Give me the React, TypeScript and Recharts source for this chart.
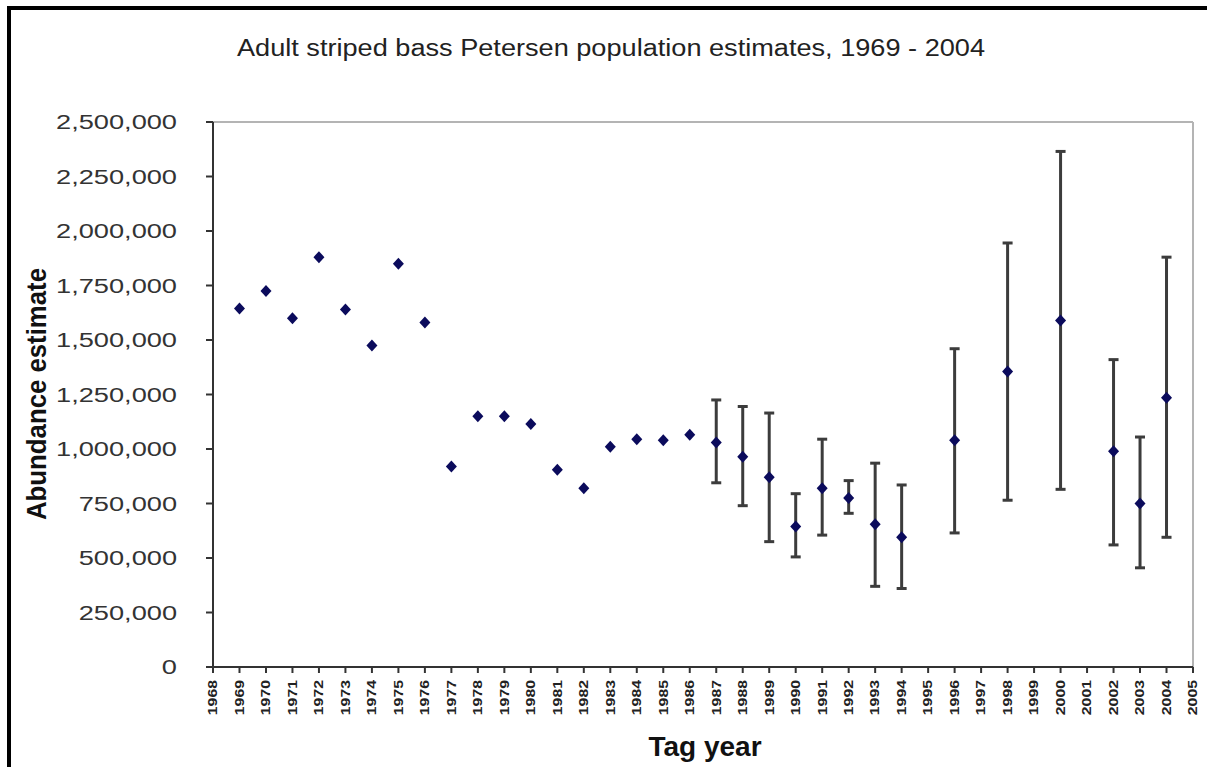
import React from "react";
import {
  ScatterChart,
  Scatter,
  XAxis,
  YAxis,
  ErrorBar,
  ReferenceLine,
} from "recharts";

// tag years and Petersen estimates
const years = [
  1969, 1970, 1971, 1972, 1973, 1974, 1975, 1976, 1977, 1978, 1979, 1980, 1981,
  1982, 1983, 1984, 1985, 1986, 1987, 1988, 1989, 1990, 1991, 1992, 1993, 1994,
  1996, 1998, 2000, 2002, 2003, 2004,
];
const estimates = [
  1645000, 1725000, 1600000, 1880000, 1640000, 1475000, 1850000, 1580000, 920000,
  1150000, 1150000, 1115000, 905000, 820000, 1010000, 1045000, 1040000, 1065000,
  1030000, 965000, 870000, 645000, 820000, 775000, 655000, 595000, 1040000,
  1355000, 1590000, 990000, 750000, 1235000,
];
// confidence limits (null = no interval shown)
const lowerCI = [
  null, null, null, null, null, null, null, null, null, null, null, null, null,
  null, null, null, null, null, 845000, 740000, 575000, 505000, 605000, 705000,
  370000, 360000, 615000, 765000, 815000, 560000, 455000, 595000,
];
const upperCI = [
  null, null, null, null, null, null, null, null, null, null, null, null, null,
  null, null, null, null, null, 1225000, 1195000, 1165000, 795000, 1045000,
  855000, 935000, 835000, 1460000, 1945000, 2365000, 1410000, 1055000, 1880000,
];

const xTicks = [
  1968, 1969, 1970, 1971, 1972, 1973, 1974, 1975, 1976, 1977, 1978, 1979, 1980,
  1981, 1982, 1983, 1984, 1985, 1986, 1987, 1988, 1989, 1990, 1991, 1992, 1993,
  1994, 1995, 1996, 1997, 1998, 1999, 2000, 2001, 2002, 2003, 2004, 2005,
];
const yTicks = [
  0, 250000, 500000, 750000, 1000000, 1250000, 1500000, 1750000, 2000000,
  2250000, 2500000,
];

const FONT = "'Liberation Sans', Arial, sans-serif";

const points = years.map((year, i) => {
  const lo = lowerCI[i];
  const hi = upperCI[i];
  return {
    year,
    estimate: estimates[i],
    err: lo != null && hi != null ? [estimates[i] - lo, hi - estimates[i]] : undefined,
  };
});

const Diamond = (props: any) => {
  const { cx, cy } = props;
  if (cx == null || cy == null) return null;
  return (
    <polygon
      points={`${cx},${cy - 6} ${cx + 5.5},${cy} ${cx},${cy + 6} ${cx - 5.5},${cy}`}
      fill="#0b0b5c"
    />
  );
};

const YTick = (props: any) => {
  const { x, y, payload } = props;
  return (
    <g transform={`translate(${x},${y})`}>
      <text
        transform="scale(1.36,1)"
        textAnchor="end"
        dy="0.36em"
        fontSize={20}
        fontFamily={FONT}
        fill="#333"
      >
        {Number(payload.value).toLocaleString("en-US")}
      </text>
    </g>
  );
};

const XTick = (props: any) => {
  const { x, y, payload } = props;
  return (
    <g transform={`translate(${x},${y})`}>
      <text
        transform="rotate(-90) scale(1.32,1)"
        textAnchor="end"
        dy="0.36em"
        fontSize={12}
        fontWeight="bold"
        fontFamily={FONT}
        fill="#222"
      >
        {payload.value}
      </text>
    </g>
  );
};

export default function App() {
  return (
    <div
      style={{
        position: "absolute",
        left: 0,
        top: 0,
        width: 1207,
        height: 767,
        background: "#fff",
        fontFamily: FONT,
      }}
    >
      <ScatterChart
        width={1207}
        height={767}
        margin={{ top: 122, right: 14, left: 0, bottom: 0 }}
      >
        <ReferenceLine y={2500000} stroke="#b4b4b4" strokeWidth={2} />
        <ReferenceLine x={2005} stroke="#b4b4b4" strokeWidth={2} />
        <XAxis
          type="number"
          dataKey="year"
          domain={[1968, 2005]}
          ticks={xTicks}
          interval={0}
          height={100}
          tickSize={6}
          tickMargin={7}
          stroke="#333"
          strokeWidth={2}
          tick={<XTick />}
          allowDecimals={false}
        />
        <YAxis
          type="number"
          dataKey="estimate"
          domain={[0, 2500000]}
          ticks={yTicks}
          interval={0}
          width={213}
          tickSize={7}
          tickMargin={29}
          stroke="#333"
          strokeWidth={2}
          tick={<YTick />}
          allowDataOverflow
        />
        <Scatter data={points} shape={<Diamond />} isAnimationActive={false}>
          <ErrorBar
            dataKey="err"
            direction="y"
            width={5}
            stroke="#3c3c3c"
            strokeWidth={3}
          />
        </Scatter>
      </ScatterChart>

      <svg
        width={1207}
        height={767}
        style={{ position: "absolute", left: 0, top: 0, pointerEvents: "none" }}
      >
        <text
          x={611}
          y={56}
          textAnchor="middle"
          fontSize={23}
          textLength={748}
          lengthAdjust="spacingAndGlyphs"
          fontFamily={FONT}
          fill="#222"
        >
          Adult striped bass Petersen population estimates, 1969 - 2004
        </text>
        <text
          transform="translate(46,394) rotate(-90)"
          textAnchor="middle"
          fontSize={28}
          fontWeight="bold"
          textLength={252}
          lengthAdjust="spacingAndGlyphs"
          fontFamily={FONT}
          fill="#111"
        >
          Abundance estimate
        </text>
        <text
          x={705}
          y={756}
          textAnchor="middle"
          fontSize={28}
          fontWeight="bold"
          fontFamily={FONT}
          fill="#111"
        >
          Tag year
        </text>
      </svg>

      <div
        style={{
          position: "absolute",
          left: 7,
          top: 6,
          right: 0,
          bottom: 0,
          borderTop: "4px solid #000",
          borderLeft: "4px solid #000",
          pointerEvents: "none",
        }}
      />
    </div>
  );
}
